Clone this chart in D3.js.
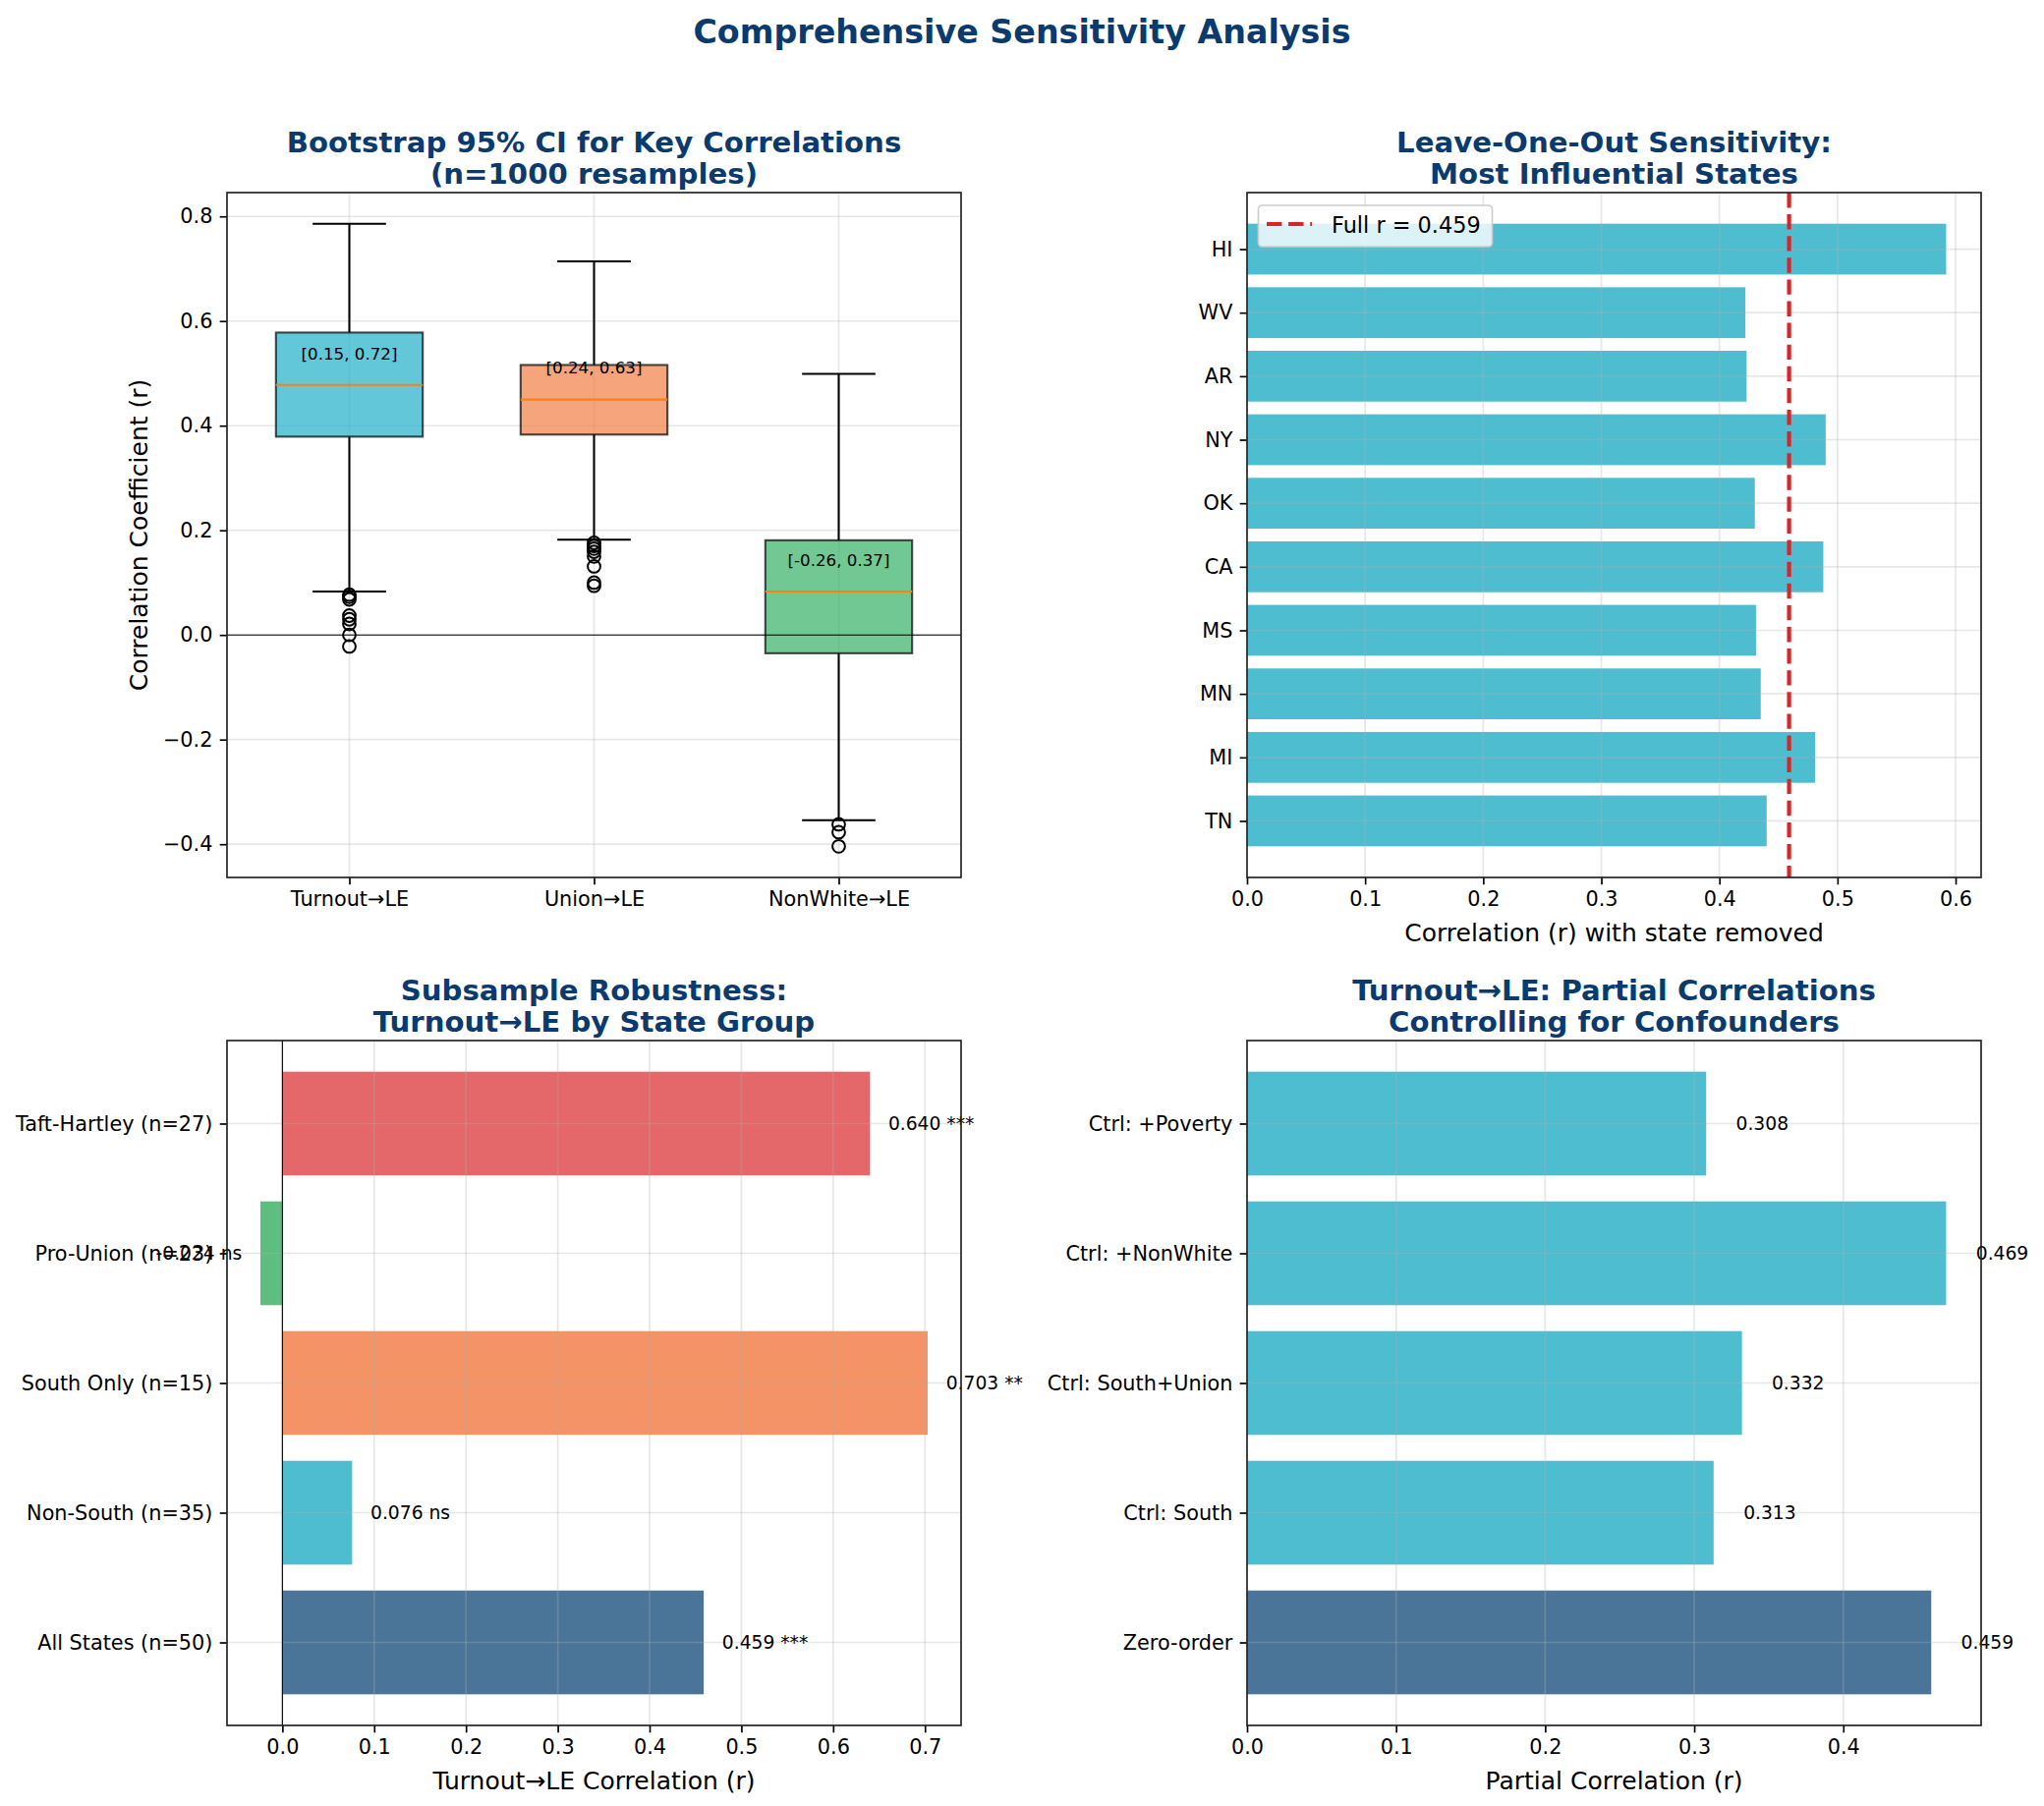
<!DOCTYPE html>
<html>
<head>
<meta charset="utf-8">
<script src="https://cdn.jsdelivr.net/npm/d3@7"></script>
<style>
  body { margin: 0; background: #fff; }
  svg { display: block; font-family: "DejaVu Sans", sans-serif; }
</style>
</head>
<body>
<svg id="chart" width="2080" height="1838"></svg>
<script>
// ---- data ----
var boxLabels = ["Turnout→LE", "Union→LE", "NonWhite→LE"];
var boxQ1 = [0.379, 0.383, -0.035];
var boxMedian = [0.478, 0.450, 0.083];
var boxQ3 = [0.578, 0.516, 0.181];
var boxLow = [0.083, 0.182, -0.354];
var boxHigh = [0.786, 0.714, 0.499];
var boxOutliers = [
  [0.077, 0.073, 0.068, 0.037, 0.030, 0.021, 0.0, -0.022],
  [0.176, 0.170, 0.165, 0.159, 0.150, 0.131, 0.100, 0.094],
  [-0.362, -0.377, -0.404]
];
var boxCI = ["[0.15, 0.72]", "[0.24, 0.63]", "[-0.26, 0.37]"];
var boxColors = ["#20afc7", "#f27d45", "#36b065"];

var looStates = ["TN", "MI", "MN", "MS", "CA", "OK", "NY", "AR", "WV", "HI"];
var looR = [0.440, 0.481, 0.435, 0.431, 0.488, 0.430, 0.490, 0.423, 0.422, 0.592];
var fullR = 0.459;

var groupLabels = ["All States (n=50)", "Non-South (n=35)", "South Only (n=15)", "Pro-Union (n=23)", "Taft-Hartley (n=27)"];
var groupR = [0.459, 0.076, 0.703, -0.024, 0.640];
var groupSig = ["***", "ns", "**", "ns", "***"];
var groupColors = ["#4b7598", "#4fbdd0", "#f39366", "#5cbe80", "#e46869"];

var partialLabels = ["Zero-order", "Ctrl: South", "Ctrl: South+Union", "Ctrl: +NonWhite", "Ctrl: +Poverty"];
var partialR = [0.459, 0.313, 0.332, 0.469, 0.308];
var partialColors = ["#4b7598", "#4fbdd0", "#4fbdd0", "#4fbdd0", "#4fbdd0"];

var barColor = "#4fbdd0";
var titleColor = "#0a3a6e";

// ---- layout ----
var svg = d3.select("#chart");
var W = 747, H = 697;
var colX = [231, 1269], rowY = [196, 1059];

svg.append("text")
    .attr("x", 1040).attr("y", 44)
    .attr("text-anchor", "middle")
    .attr("font-size", 33.3).attr("font-weight", "bold")
    .attr("fill", titleColor)
    .text("Comprehensive Sensitivity Analysis");

function addPanel(col, row, title) {
  var g = svg.append("g")
      .attr("transform", "translate(" + colX[col] + "," + rowY[row] + ")");
  var t = g.append("text")
      .attr("text-anchor", "middle")
      .attr("font-size", 29.2).attr("font-weight", "bold")
      .attr("fill", titleColor);
  t.append("tspan").attr("x", W / 2).attr("y", -41).text(title[0]);
  t.append("tspan").attr("x", W / 2).attr("y", -9).text(title[1]);
  return g;
}

function gridX(g, vals, x) {
  g.append("g").selectAll("line").data(vals).enter().append("line")
      .attr("x1", function(d) { return x(d); }).attr("x2", function(d) { return x(d); })
      .attr("y1", 0).attr("y2", H)
      .attr("stroke", "#b0b0b0").attr("stroke-opacity", 0.3).attr("stroke-width", 1.67);
}
function gridY(g, vals, y) {
  g.append("g").selectAll("line").data(vals).enter().append("line")
      .attr("y1", function(d) { return y(d); }).attr("y2", function(d) { return y(d); })
      .attr("x1", 0).attr("x2", W)
      .attr("stroke", "#b0b0b0").attr("stroke-opacity", 0.3).attr("stroke-width", 1.67);
}

function styleAxis(a, size) {
  a.select(".domain").remove();
  a.selectAll(".tick line").attr("stroke", "#000").attr("stroke-width", 1.67);
  a.selectAll(".tick text").attr("fill", "#000").attr("font-size", size)
      .attr("font-family", "DejaVu Sans, sans-serif");
}

function frame(g) {
  g.append("rect").attr("width", W).attr("height", H)
      .attr("fill", "none").attr("stroke", "#222").attr("stroke-width", 1.67);
}

function xLabel(g, txt) {
  g.append("text").attr("x", W / 2).attr("y", H + 65)
      .attr("text-anchor", "middle").attr("font-size", 25).text(txt);
}

// matplotlib style 5% margins
function pad(lo, hi) {
  var m = (hi - lo) * 0.05;
  return [lo - m, hi + m];
}

// ---- panel 1: bootstrap boxplots ----
var p1 = addPanel(0, 0, ["Bootstrap 95% CI for Key Correlations", "(n=1000 resamples)"]);
var allVals = boxLow.concat(boxHigh, d3.merge(boxOutliers));
var x1 = d3.scaleLinear().domain([0.5, 3.5]).range([0, W]);
var y1 = d3.scaleLinear().domain(pad(d3.min(allVals), d3.max(allVals))).range([H, 0]);
var pos = boxLabels.map(function(d, i) { return i + 1; });

gridY(p1, y1.ticks(6), y1);
gridX(p1, pos, x1);

var boxes = p1.selectAll(".box").data(boxLabels).enter().append("g").attr("class", "box");
boxes.append("line")
    .attr("x1", function(d, i) { return x1(pos[i]); }).attr("x2", function(d, i) { return x1(pos[i]); })
    .attr("y1", function(d, i) { return y1(boxQ1[i]); }).attr("y2", function(d, i) { return y1(boxLow[i]); })
    .attr("stroke", "#000").attr("stroke-width", 2.08);
boxes.append("line")
    .attr("x1", function(d, i) { return x1(pos[i]); }).attr("x2", function(d, i) { return x1(pos[i]); })
    .attr("y1", function(d, i) { return y1(boxQ3[i]); }).attr("y2", function(d, i) { return y1(boxHigh[i]); })
    .attr("stroke", "#000").attr("stroke-width", 2.08);
boxes.append("line")
    .attr("x1", function(d, i) { return x1(pos[i] - 0.15); }).attr("x2", function(d, i) { return x1(pos[i] + 0.15); })
    .attr("y1", function(d, i) { return y1(boxLow[i]); }).attr("y2", function(d, i) { return y1(boxLow[i]); })
    .attr("stroke", "#000").attr("stroke-width", 2.08);
boxes.append("line")
    .attr("x1", function(d, i) { return x1(pos[i] - 0.15); }).attr("x2", function(d, i) { return x1(pos[i] + 0.15); })
    .attr("y1", function(d, i) { return y1(boxHigh[i]); }).attr("y2", function(d, i) { return y1(boxHigh[i]); })
    .attr("stroke", "#000").attr("stroke-width", 2.08);
boxes.append("rect")
    .attr("x", function(d, i) { return x1(pos[i] - 0.3); })
    .attr("width", function(d, i) { return x1(pos[i] + 0.3) - x1(pos[i] - 0.3); })
    .attr("y", function(d, i) { return y1(boxQ3[i]); })
    .attr("height", function(d, i) { return y1(boxQ1[i]) - y1(boxQ3[i]); })
    .attr("fill", function(d, i) { return boxColors[i]; }).attr("fill-opacity", 0.7)
    .attr("stroke", "#000").attr("stroke-opacity", 0.7).attr("stroke-width", 2.08);
boxes.append("line")
    .attr("x1", function(d, i) { return x1(pos[i] - 0.3); }).attr("x2", function(d, i) { return x1(pos[i] + 0.3); })
    .attr("y1", function(d, i) { return y1(boxMedian[i]); }).attr("y2", function(d, i) { return y1(boxMedian[i]); })
    .attr("stroke", "#ff7f0e").attr("stroke-width", 2.08);
boxes.each(function(d, i) {
  d3.select(this).selectAll("circle").data(boxOutliers[i]).enter().append("circle")
      .attr("cx", x1(pos[i])).attr("cy", function(v) { return y1(v); })
      .attr("r", 6.4).attr("fill", "none").attr("stroke", "#000").attr("stroke-width", 2);
});

p1.append("line").attr("x1", 0).attr("x2", W).attr("y1", y1(0)).attr("y2", y1(0))
    .attr("stroke", "#000").attr("stroke-width", 1.1);

boxes.append("text")
    .attr("x", function(d, i) { return x1(pos[i]); })
    .attr("y", function(d, i) { return y1(boxMedian[i] + 0.06); })
    .attr("dy", "0.35em").attr("text-anchor", "middle").attr("font-size", 16.7)
    .text(function(d, i) { return boxCI[i]; });

var ax1y = p1.append("g").call(d3.axisLeft(y1).ticks(6).tickSize(7.3).tickPadding(7.3).tickFormat(d3.format(".1f")));
styleAxis(ax1y, 20.8);
var ax1x = p1.append("g").attr("transform", "translate(0," + H + ")")
    .call(d3.axisBottom(x1).tickValues(pos).tickSize(7.3).tickPadding(7.3).tickFormat(function(d) { return boxLabels[d - 1]; }));
styleAxis(ax1x, 20.8);
frame(p1);
p1.append("text")
    .attr("transform", "translate(-81," + (H / 2) + ") rotate(-90)")
    .attr("text-anchor", "middle").attr("font-size", 25)
    .text("Correlation Coefficient (r)");

// ---- horizontal bar panel helper ----
function barPanel(g, labels, vals, colors, xDom, tickCount) {
  var n = labels.length;
  var x = d3.scaleLinear().domain(xDom).range([0, W]);
  var y = d3.scaleLinear().domain(pad(-0.4, n - 1 + 0.4)).range([H, 0]);
  g.selectAll(".bar").data(vals).enter().append("rect")
      .attr("class", "bar")
      .attr("x", function(d) { return x(Math.min(0, d)); })
      .attr("width", function(d) { return Math.abs(x(d) - x(0)); })
      .attr("y", function(d, i) { return y(i + 0.4); })
      .attr("height", function(d, i) { return y(i - 0.4) - y(i + 0.4); })
      .attr("fill", function(d, i) { return colors[i]; });
  gridX(g, x.ticks(tickCount), x);
  gridY(g, d3.range(n), y);
  var ay = g.append("g").call(d3.axisLeft(y).tickValues(d3.range(n)).tickSize(7.3).tickPadding(7.3)
      .tickFormat(function(d) { return labels[d]; }));
  styleAxis(ay, 20.8);
  var ax = g.append("g").attr("transform", "translate(0," + H + ")")
      .call(d3.axisBottom(x).ticks(tickCount).tickSize(7.3).tickPadding(7.3).tickFormat(d3.format(".1f")));
  styleAxis(ax, 20.8);
  return { x: x, y: y };
}

// ---- panel 2: leave-one-out ----
var p2 = addPanel(1, 0, ["Leave-One-Out Sensitivity:", "Most Influential States"]);
var s2 = barPanel(p2, looStates, looR, looR.map(function() { return barColor; }),
    [0, d3.max(looR) * 1.05], 7);
p2.append("line")
    .attr("x1", s2.x(fullR)).attr("x2", s2.x(fullR)).attr("y1", 0).attr("y2", H)
    .attr("stroke", "#d62728").attr("stroke-width", 4.2).attr("stroke-dasharray", "15.4,6.7");
frame(p2);
xLabel(p2, "Correlation (r) with state removed");
var leg = p2.append("g");
leg.append("rect").attr("x", 11.5).attr("y", 13).attr("width", 238).attr("height", 42).attr("rx", 4)
    .attr("fill", "#fff").attr("fill-opacity", 0.8).attr("stroke", "#cccccc").attr("stroke-width", 1.6);
leg.append("line").attr("x1", 20).attr("x2", 66).attr("y1", 32).attr("y2", 32)
    .attr("stroke", "#d62728").attr("stroke-width", 4.2).attr("stroke-dasharray", "15.4,6.7");
leg.append("text").attr("x", 86).attr("y", 41).attr("font-size", 22.4)
    .text("Full r = " + fullR.toFixed(3));

// ---- panel 3: subsamples ----
var p3 = addPanel(0, 1, ["Subsample Robustness:", "Turnout→LE by State Group"]);
var s3 = barPanel(p3, groupLabels, groupR, groupColors,
    pad(Math.min(0, d3.min(groupR)), d3.max(groupR)), 8);
p3.append("line").attr("x1", s3.x(0)).attr("x2", s3.x(0)).attr("y1", 0).attr("y2", H)
    .attr("stroke", "#000").attr("stroke-width", 1.1);
p3.selectAll(".val").data(groupR).enter().append("text")
    .attr("x", function(d) { return s3.x(d >= 0 ? d + 0.02 : d - 0.02); })
    .attr("y", function(d, i) { return s3.y(i); })
    .attr("dy", "0.35em").attr("font-size", 18.7)
    .attr("text-anchor", function(d) { return d >= 0 ? "start" : "end"; })
    .text(function(d, i) { return d.toFixed(3) + " " + groupSig[i]; });
frame(p3);
xLabel(p3, "Turnout→LE Correlation (r)");

// ---- panel 4: partial correlations ----
var p4 = addPanel(1, 1, ["Turnout→LE: Partial Correlations", "Controlling for Confounders"]);
var s4 = barPanel(p4, partialLabels, partialR, partialColors, [0, d3.max(partialR) * 1.05], 5);
p4.selectAll(".val").data(partialR).enter().append("text")
    .attr("x", function(d) { return s4.x(d + 0.02); })
    .attr("y", function(d, i) { return s4.y(i); })
    .attr("dy", "0.35em").attr("font-size", 18.7)
    .text(function(d) { return d.toFixed(3); });
frame(p4);
xLabel(p4, "Partial Correlation (r)");
</script>
</body>
</html>
